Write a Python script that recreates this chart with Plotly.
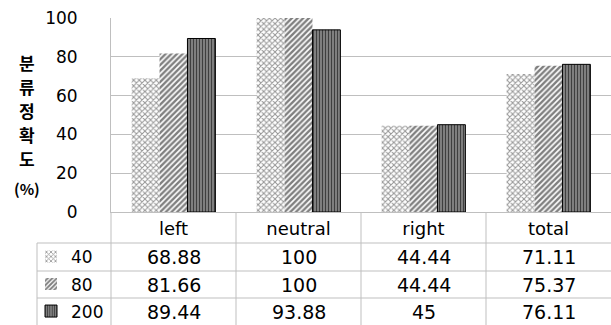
import plotly.graph_objects as go

categories = ["left", "neutral", "right", "total"]
series_names = ["40", "80", "200"]
values_40 = [68.88, 100, 44.44, 71.11]
values_80 = [81.66, 100, 44.44, 75.37]
values_200 = [89.44, 93.88, 45, 76.11]
y_ticks = [0, 20, 40, 60, 80, 100]
y_title_chars = ["분", "류", "정", "확", "도", "(%)"]

series_values = [values_40, values_80, values_200]
patterns = [
    dict(shape="x", size=4, solidity=0.45, fgcolor="#2e2e2e", bgcolor="#ffffff"),
    dict(shape="/", size=4, solidity=0.6, fgcolor="#000000", bgcolor="#ffffff"),
    dict(shape="|", size=3, solidity=0.35, fgcolor="#000000", bgcolor="#7f7f7f"),
]
line_widths = [0, 0, 1]

# pixel geometry helpers (layout only)
W, H = 611, 325
L, R, T, B = 111, 0, 18, 113
PW, PH = W - L - R, H - T - B


def px_x(X):
    return (X - L) / PW


def px_y(Y):
    return (H - B - Y) / PH


GRID = "#bfbfbf"
FONT = "DejaVu Sans"

fig = go.Figure()
legend_names = ["legend", "legend2", "legend3"]
for i, (name, vals) in enumerate(zip(series_names, series_values)):
    fig.add_trace(go.Bar(
        x=categories, y=vals, name=name,
        marker=dict(pattern=patterns[i], color=patterns[i]["bgcolor"],
                    line=dict(width=line_widths[i], color="#000000")),
        legend=legend_names[i],
    ))

row_centers = [257, 284.5, 311.5]
annotations = []
# table values
for r, vals in enumerate(series_values):
    for c, v in enumerate(vals):
        annotations.append(dict(
            x=categories[c], y=px_y(row_centers[r]), xref="x", yref="paper",
            text=f"{v:g}", showarrow=False,
            font=dict(family=FONT, size=19, color="#000000"),
            xanchor="center", yanchor="middle"))
# vertical korean y title
title_y = [63, 86, 110, 134, 158, 188]
for ch, yy in zip(y_title_chars, title_y):
    annotations.append(dict(
        x=px_x(27), y=px_y(yy), xref="paper", yref="paper", text=f"<b>{ch}</b>",
        showarrow=False, font=dict(family="Noto Sans CJK KR", size=17 if ch != "(%)" else 15,
                                   color="#000000"),
        xanchor="center", yanchor="middle"))

shapes = []
line_style = dict(color=GRID, width=1)
# horizontal table lines
for Y in [243, 271, 298]:
    shapes.append(dict(type="line", xref="paper", yref="paper", x0=px_x(37), x1=1.02,
                       y0=px_y(Y), y1=px_y(Y), line=line_style))
# left border of legend column
shapes.append(dict(type="line", xref="paper", yref="paper", x0=px_x(37), x1=px_x(37),
                   y0=px_y(243), y1=px_y(330), line=line_style))
# vertical line at the y axis continuing down
shapes.append(dict(type="line", xref="paper", yref="paper", x0=0, x1=0,
                   y0=0, y1=px_y(330), line=line_style))
# category separators
for xb in [0.5, 1.5, 2.5]:
    shapes.append(dict(type="line", xref="x", yref="paper", x0=xb, x1=xb,
                       y0=0, y1=px_y(330), line=line_style))

legends = {}
for i, ln in enumerate(legend_names):
    legends[ln] = dict(x=px_x(31), y=px_y(row_centers[i]), xanchor="left", yanchor="middle",
                       xref="paper", yref="paper", bgcolor="rgba(0,0,0,0)",
                       font=dict(family=FONT, size=17, color="#000000"),
                       itemwidth=30, tracegroupgap=0)

fig.update_layout(
    width=W, height=H,
    margin=dict(l=L, r=R, t=T, b=B, autoexpand=False),
    plot_bgcolor="#ffffff", paper_bgcolor="#ffffff",
    barmode="group", bargap=0.33, bargroupgap=0,
    showlegend=True,
    annotations=annotations, shapes=shapes,
    **legends,
)
fig.update_xaxes(
    type="category", showgrid=False, showline=True, linecolor=GRID, linewidth=1,
    ticks="", tickfont=dict(family=FONT, size=18, color="#000000"),
    ticklabelstandoff=0, range=[-0.5, 3.5],
)
fig.update_yaxes(
    range=[0, 100], tickvals=y_ticks, showgrid=True, gridcolor=GRID, gridwidth=1,
    showline=True, linecolor=GRID, linewidth=1, ticks="", zeroline=False,
    tickfont=dict(family=FONT, size=17, color="#000000"), ticklabelstandoff=29,
)

fig.write_html("out.html", config={"displayModeBar": False},
               post_script="document.body.style.margin='0';document.body.style.overflow='hidden';")
